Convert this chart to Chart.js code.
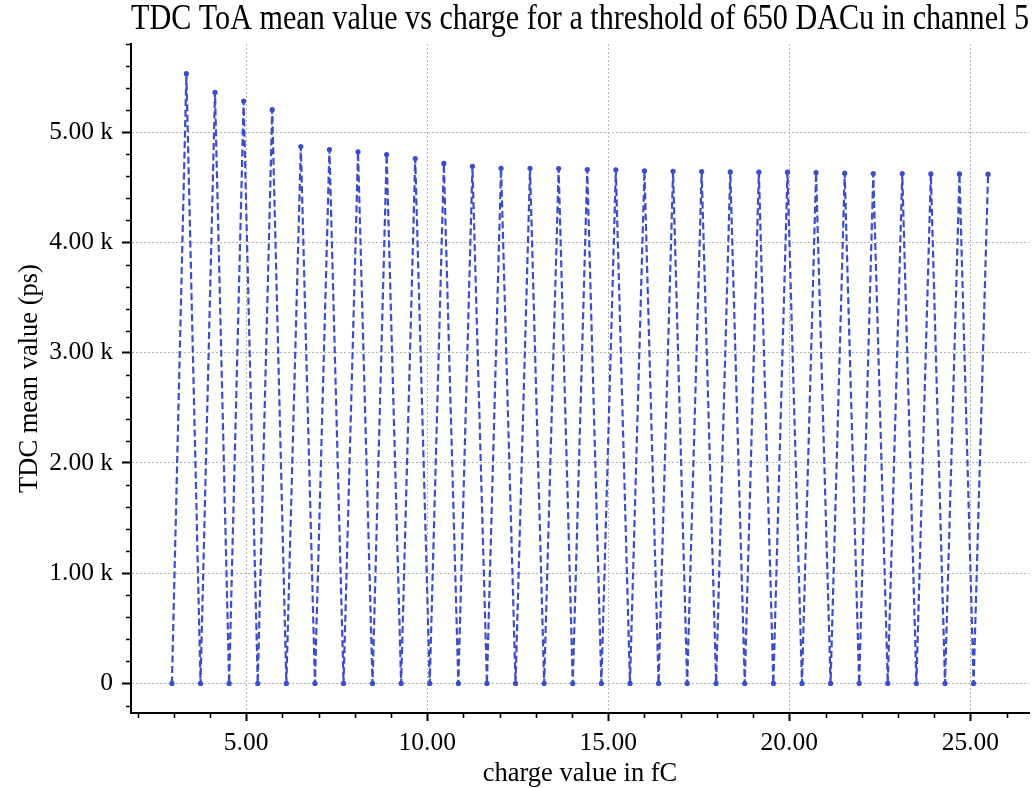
<!DOCTYPE html>
<html>
<head>
<meta charset="utf-8">
<script src="https://cdn.jsdelivr.net/npm/chart.js@4.4.1/dist/chart.umd.min.js"></script>
<style>
  html, body { margin: 0; padding: 0; background: #ffffff; }
  #wrap { width: 1033px; height: 788px; position: relative; }
</style>
</head>
<body>
<div id="wrap"><canvas id="chart"></canvas></div>
<script>
// Injected charge (fC) for each scan step
const charges = [2.95, 3.35, 3.74, 4.14, 4.53, 4.93, 5.32, 5.72, 6.11, 6.51,
  6.90, 7.30, 7.69, 8.09, 8.49, 8.88, 9.28, 9.67, 10.07, 10.46,
  10.86, 11.25, 11.65, 12.04, 12.44, 12.84, 13.23, 13.63, 14.02, 14.42,
  14.81, 15.21, 15.60, 16.00, 16.39, 16.79, 17.18, 17.58, 17.98, 18.37,
  18.77, 19.16, 19.56, 19.95, 20.35, 20.74, 21.14, 21.53, 21.93, 22.32,
  22.72, 23.12, 23.51, 23.91, 24.30, 24.70, 25.09, 25.49];

// TDC ToA mean value (ps) at each charge
const tdcMean = [0, 5531, 0, 5361, 0, 5282, 0, 5204, 0, 4870,
  0, 4843, 0, 4822, 0, 4797, 0, 4761, 0, 4717,
  0, 4691, 0, 4673, 0, 4673, 0, 4670, 0, 4661,
  0, 4659, 0, 4649, 0, 4646, 0, 4643, 0, 4640,
  0, 4637, 0, 4637, 0, 4634, 0, 4628, 0, 4625,
  0, 4625, 0, 4622, 0, 4622, 0, 4619];

const xTickValues = [5, 10, 15, 20, 25];
const xTickLabels = ['5.00', '10.00', '15.00', '20.00', '25.00'];
const yTickValues = [0, 1000, 2000, 3000, 4000, 5000];
const yTickLabels = ['0', '1.00 k', '2.00 k', '3.00 k', '4.00 k', '5.00 k'];

const titleText = 'TDC ToA mean value vs charge for a threshold of 650 DACu in channel 5';
const serif = "'Liberation Serif', 'Times New Roman', serif";
const lineBlue = '#3b4ec8';

// Title centred over the plot area, narrowed to fit its width
const titlePlugin = {
  id: 'plotTitle',
  afterDraw(chart) {
    const { ctx, chartArea } = chart;
    ctx.save();
    ctx.font = '35px ' + serif;
    ctx.fillStyle = '#000';
    ctx.textAlign = 'center';
    ctx.textBaseline = 'alphabetic';
    const cx = (chartArea.left + chartArea.right) / 2;
    ctx.fillText(titleText, cx, 29, chartArea.right - chartArea.left);
    ctx.restore();
  }
};

// Minor tick marks on both axes
const minorTicks = {
  id: 'minorTicks',
  afterDraw(chart) {
    const { ctx, chartArea, scales } = chart;
    ctx.save();
    ctx.strokeStyle = '#000';
    ctx.lineWidth = 1.6;
    ctx.beginPath();
    const xs = scales.x;
    for (let v = 2; v <= 26; v += 1) {
      if (v % 5 === 0) continue;
      const px = Math.round(xs.getPixelForValue(v)) + 0.5;
      ctx.moveTo(px, chartArea.bottom);
      ctx.lineTo(px, chartArea.bottom + 5);
    }
    const ys = scales.y;
    for (let v = -200; v <= 5800; v += 200) {
      if (v % 1000 === 0) continue;
      const py = Math.round(ys.getPixelForValue(v)) + 0.5;
      ctx.moveTo(chartArea.left, py);
      ctx.lineTo(chartArea.left - 5, py);
    }
    ctx.stroke();
    ctx.restore();
  }
};

const points = charges.map((c, i) => ({ x: c, y: tdcMean[i] }));

new Chart(document.getElementById('chart'), {
  type: 'line',
  data: {
    datasets: [{
      data: points,
      borderColor: lineBlue,
      backgroundColor: lineBlue,
      borderWidth: 2.2,
      borderDash: [7, 3.5],
      pointRadius: 2.6,
      pointBorderWidth: 0,
      pointBackgroundColor: lineBlue,
      tension: 0,
      fill: false
    }]
  },
  options: {
    responsive: true,
    maintainAspectRatio: false,
    animation: false,
    layout: { padding: { top: 44, right: 3, left: 0, bottom: 0 } },
    plugins: {
      legend: { display: false },
      title: { display: false },
      tooltip: { enabled: false }
    },
    scales: {
      x: {
        type: 'linear',
        min: 1.82,
        max: 26.62,
        afterBuildTicks(scale) { scale.ticks = xTickValues.map(v => ({ value: v })); },
        afterFit(scale) { scale.height = 75; },
        ticks: {
          color: '#000',
          font: { family: serif, size: 25.5 },
          padding: 7,
          maxRotation: 0,
          autoSkip: false,
          callback(value) {
            const i = xTickValues.indexOf(value);
            return i >= 0 ? xTickLabels[i] : '';
          }
        },
        grid: {
          color: '#b4b4b4',
          lineWidth: 1,
          drawTicks: true,
          tickLength: 8,
          tickColor: '#000',
          tickWidth: 2
        },
        border: { display: true, color: '#000', width: 2, dash: [2, 2] },
        title: {
          display: true,
          text: 'charge value in fC',
          color: '#000',
          font: { family: serif, size: 26.5, lineHeight: 1 },
          padding: { top: 0, bottom: 1 }
        }
      },
      y: {
        type: 'linear',
        min: -268,
        max: 5800,
        afterBuildTicks(scale) { scale.ticks = yTickValues.map(v => ({ value: v })); },
        afterFit(scale) { scale.width = 131; },
        ticks: {
          color: '#000',
          font: { family: serif, size: 25.5 },
          padding: 9,
          autoSkip: false,
          callback(value) {
            const i = yTickValues.indexOf(value);
            return i >= 0 ? yTickLabels[i] : '';
          }
        },
        grid: {
          color: '#b4b4b4',
          lineWidth: 1,
          drawTicks: true,
          tickLength: 9,
          tickColor: '#000',
          tickWidth: 2
        },
        border: { display: true, color: '#000', width: 2, dash: [2, 2] },
        title: {
          display: true,
          text: 'TDC mean value (ps)',
          color: '#000',
          font: { family: serif, size: 26.5, lineHeight: 1 },
          padding: { top: 17, bottom: 0 }
        }
      }
    }
  },
  plugins: [titlePlugin, minorTicks]
});
</script>
</body>
</html>
